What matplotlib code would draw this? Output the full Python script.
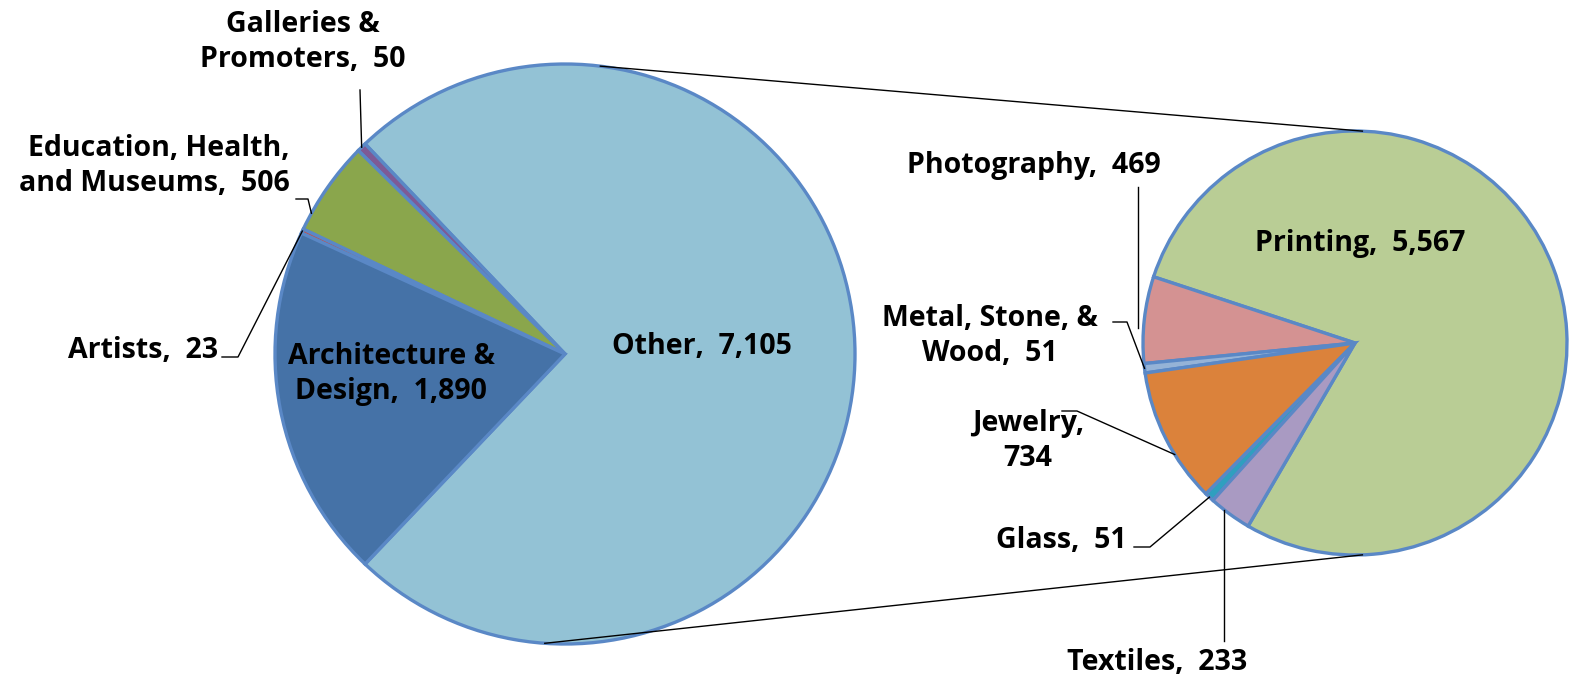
import numpy as np
import matplotlib
matplotlib.use("Agg")
import matplotlib.pyplot as plt

# ---- data ----
main_labels = ["Other", "Galleries &\nPromoters", "Education, Health,\nand Museums", "Artists", "Architecture &\nDesign"]
main_values = [7105, 50, 506, 23, 1890]
main_colors = ["#93C2D5", "#7E5A95", "#8AA64C", "#C0504D", "#4572A7"]

sub_labels = ["Printing", "Photography", "Metal, Stone, &\nWood", "Jewelry,\n", "Glass", "Textiles"]
sub_values = [5567, 469, 51, 734, 51, 233]
sub_colors = ["#B9CD95", "#D49292", "#95B3D7", "#DB823B", "#2F9FBF", "#A99AC2"]

W, H = 1574, 683
fig = plt.figure(figsize=(W / 100, H / 100), dpi=100)
ax = fig.add_axes([0, 0, 1, 1])
ax.set_xlim(0, W)
ax.set_ylim(0, H)
ax.set_aspect("equal")
ax.axis("off")

FONT = "Open Sans"
FS = 20.5
EDGE = "#5A88C6"

def Y(y):
    return H - y

c1 = (565, Y(354)); r1 = 290
c2 = (1355, Y(343)); r2 = 212

frac_other = main_values[0] / sum(main_values)
w1, _ = ax.pie(main_values, colors=main_colors, center=c1, radius=r1,
               startangle=-frac_other * 180, counterclock=True,
               wedgeprops=dict(edgecolor=EDGE, linewidth=2.4), frame=True)
frac_print = sub_values[0] / sum(sub_values)
w2, _ = ax.pie(sub_values, colors=sub_colors, center=c2, radius=r2,
               startangle=161.8 - frac_print * 360, counterclock=True,
               wedgeprops=dict(edgecolor=EDGE, linewidth=2.4), frame=True)
ax.set_xlim(0, W)
ax.set_ylim(0, H)
ax.axis("off")

def rim(c, r, ang):
    a = np.deg2rad(ang)
    return c[0] + r * np.cos(a), c[1] + r * np.sin(a)

def mid(w):
    return (w.theta1 + w.theta2) / 2

def fmt(v):
    return f"{v:,}"

tk = dict(fontfamily=FONT, fontweight="bold", fontsize=FS, color="black", linespacing=1.25)
lk = dict(color="black", lw=1.0)

# connector lines between the pies
p1 = rim(c1, r1, 83); q1 = rim(c2, r2, 88)
p2 = rim(c1, r1, -94); q2 = rim(c2, r2, -88)
ax.plot([p1[0], q1[0]], [p1[1], q1[1]], **lk)
ax.plot([p2[0], q2[0]], [p2[1], q2[1]], **lk)

# ---- main pie labels ----
ax.text(702, Y(347), f"Other,  {fmt(main_values[0])}", ha="center", va="center", **tk)
ax.text(391, Y(374), f"Architecture &\nDesign,  {fmt(main_values[4])}", ha="center", va="center", **tk)

# Galleries
ax.text(303, Y(42), f"Galleries &\nPromoters,  {fmt(main_values[1])}", ha="center", va="center", **tk)
px, py = rim(c1, r1, mid(w1[1]))
ax.plot([360, px], [Y(90), py], **lk)

# Education
ax.text(290, Y(166), f"Education, Health,\nand Museums,  {fmt(main_values[2])}", ha="right", va="center", **tk)
px, py = rim(c1, r1, mid(w1[2]) + 6)
ax.plot([296, 308, px], [Y(199), Y(199), py], **lk)

# Artists
ax.text(218, Y(351), f"Artists,  {fmt(main_values[3])}", ha="right", va="center", **tk)
px, py = rim(c1, r1, mid(w1[3]))
ax.plot([222, 238, px], [Y(357), Y(357), py], **lk)

# ---- sub pie labels ----
ax.text(1360, Y(243), f"Printing,  {fmt(sub_values[0])}", ha="center", va="center", **tk)

ax.text(1034, Y(165), f"Photography,  {fmt(sub_values[1])}", ha="center", va="center", **tk)
px, py = rim(c2, r2, 176)
ax.plot([1138, 1138], [Y(187), py], **lk)

ax.text(990, Y(336), f"Metal, Stone, &\nWood,  {fmt(sub_values[2])}", ha="center", va="center", **tk)
px, py = rim(c2, r2, mid(w2[2]))
ax.plot([1113, 1127, px], [Y(322), Y(322), py], **lk)

ax.text(1028, Y(441), f"Jewelry,\n{fmt(sub_values[3])}", ha="center", va="center", **tk)
px, py = rim(c2, r2, mid(w2[3]) + 5)
ax.plot([1062, 1077, px], [Y(411), Y(411), py], **lk)

ax.text(1127, Y(540), f"Glass,  {fmt(sub_values[4])}", ha="right", va="center", **tk)
px, py = rim(c2, r2, mid(w2[4]))
ax.plot([1134, 1150, px], [Y(547), Y(547), py], **lk)

ax.text(1157, Y(662), f"Textiles,  {fmt(sub_values[5])}", ha="center", va="center", **tk)
px, py = rim(c2, r2, mid(w2[5]) - 2)
ax.plot([px, px], [Y(641), py], **lk)

fig.savefig("out.png", dpi=100, facecolor="white")
